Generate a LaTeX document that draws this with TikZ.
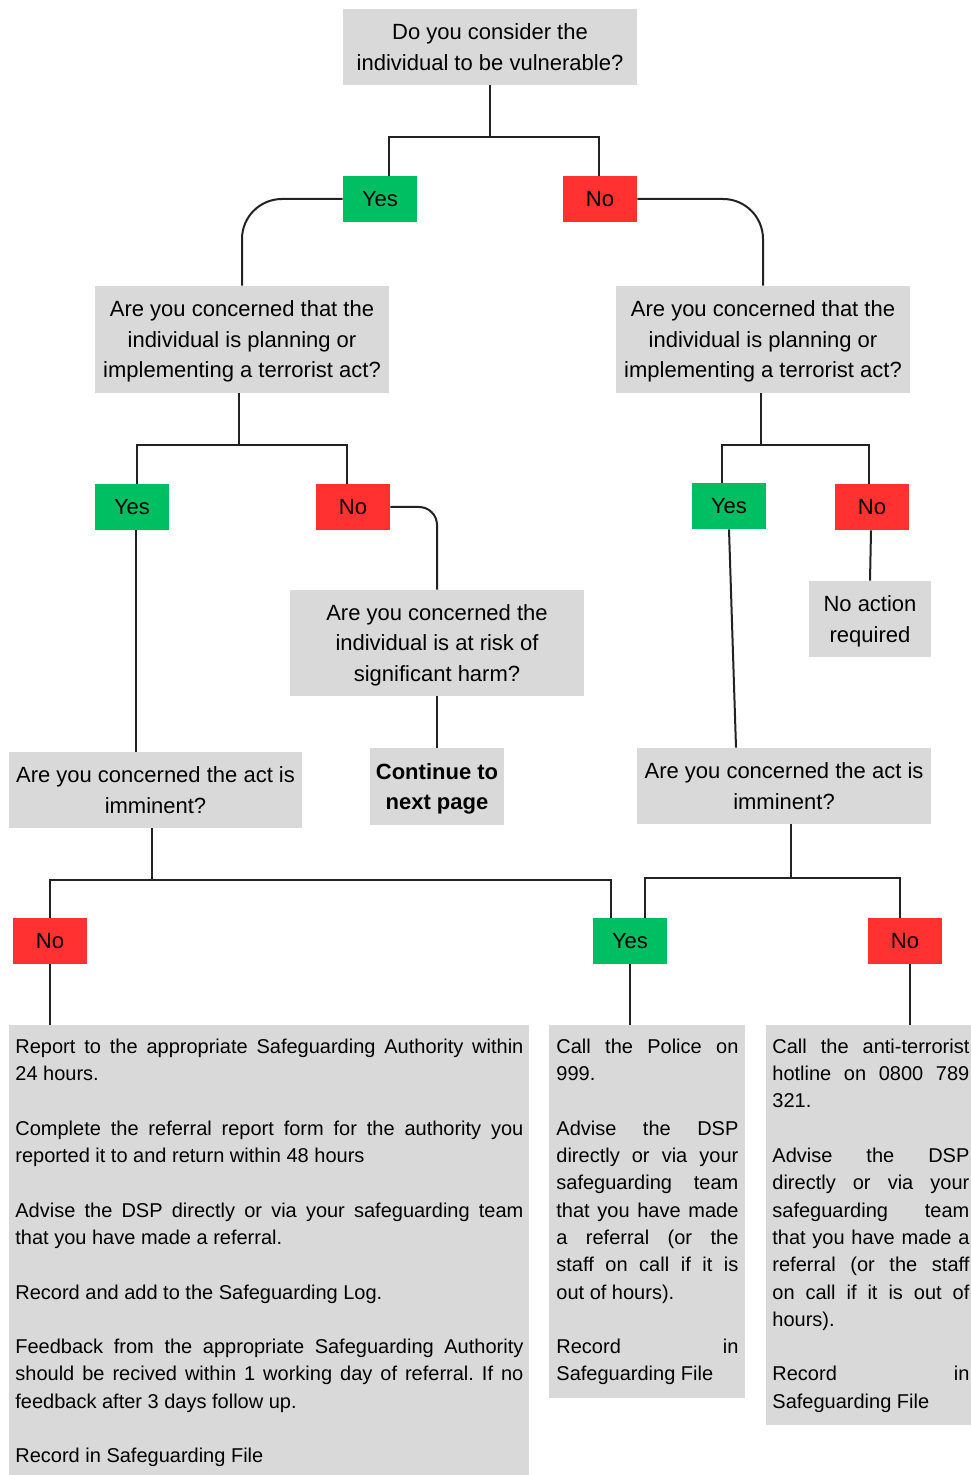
\documentclass[tikz,border=0pt]{standalone}
\usepackage{fontspec}
\setmainfont{Liberation Sans}

\definecolor{boxgray}{HTML}{D9D9D9}
\definecolor{yesgreen}{HTML}{00BF63}
\definecolor{nored}{HTML}{FF3131}
\definecolor{linegray}{HTML}{222222}

\newcommand{\gap}{\par\vspace{13.65pt}}
\hyphenpenalty=10000
\exhyphenpenalty=10000
\tolerance=10000
\frenchspacing

\begin{document}
\begin{tikzpicture}[x=0.5pt, y=-0.5pt,
	question/.style={fill=boxgray, inner sep=0pt, align=center, text depth=0pt, font=\fontsize{11}{15.25}\selectfont},
	yesbox/.style={fill=yesgreen, minimum width=37pt, minimum height=23pt, inner sep=0pt, font=\fontsize{11}{15}\selectfont},
	nobox/.style={yesbox, fill=nored},
	todo/.style={fill=boxgray, anchor=north west, inner xsep=3pt, inner ysep=4.4pt, align=justify, font=\fontsize{10}{13.65}\selectfont},
	link/.style={draw=linegray, line width=1pt}]

		\useasboundingbox (0,0) rectangle (970,1475);

		% questions
		\node[question, minimum width=147pt, minimum height=38pt] (vuln) at (490,47) {Do you consider the\\individual to be vulnerable?};
		\node[yesbox] (yes1) at (380,199) {Yes};
		\node[nobox] (no1) at (600,199) {No};

		\node[question, minimum width=147pt, minimum height=53.5pt] (terrL) at (242,339.5) {Are you concerned that the\\individual is planning or\\implementing a terrorist act?};
		\node[question, minimum width=147pt, minimum height=53.5pt] (terrR) at (763,339.5) {Are you concerned that the\\individual is planning or\\implementing a terrorist act?};

		\node[yesbox] (yes2) at (132,507) {Yes};
		\node[nobox] (no2) at (353,507) {No};
		\node[yesbox] (yes3) at (729,506) {Yes};
		\node[nobox] (no3) at (872,507) {No};

		\node[question, minimum width=147pt, minimum height=53pt] (harm) at (437,643) {Are you concerned the\\individual is at risk of\\significant harm?};
		\node[question, minimum width=67pt, minimum height=38.5pt, font=\fontsize{11}{15.25}\selectfont\bfseries] (cont) at (437,786.5) {Continue to\\next page};
		\node[question, minimum width=61pt, minimum height=38pt] (noact) at (870,619) {No action\\required};

		\node[question, minimum width=146.5pt, minimum height=38pt] (immL) at (155.5,790) {Are you concerned the act is\\imminent?};
		\node[question, minimum width=147pt, minimum height=38pt] (immR) at (784,786) {Are you concerned the act is\\imminent?};

		\node[nobox] (no4) at (50,941) {No};
		\node[yesbox] (yes4) at (630,941) {Yes};
		\node[nobox] (no5) at (905,941) {No};

		% actions
		\node[todo, text width=254pt] (report) at (9,1025) {\strut Report to the appropriate Safeguarding Authority within\linebreak 24 hours.\gap
			Complete the referral report form for the authority you\linebreak reported it to and return within 48 hours\gap
			Advise the DSP directly or via your safeguarding team\linebreak that you have made a referral.\gap
			Record and add to the Safeguarding Log.\gap
			Feedback from the appropriate Safeguarding Authority\linebreak should be recived within 1 working day of referral. If no\linebreak feedback after 3 days follow up.\gap
			Record in Safeguarding File\strut};
		\node[todo, text width=91pt, inner xsep=3.5pt] (police) at (549,1025) {\strut Call the Police on\linebreak 999.\gap
			Advise the DSP\linebreak directly or via your\linebreak safeguarding team\linebreak that you have made\linebreak a referral (or the\linebreak staff on call if it is\linebreak out of hours).\gap
			Record in\linebreak Safeguarding File\strut};
		\node[todo, text width=98.5pt] (hotline) at (766,1025) {\strut Call the anti-terrorist\linebreak hotline on 0800 789\linebreak 321.\gap
			Advise the DSP\linebreak directly or via your\linebreak safeguarding team\linebreak that you have made a\linebreak referral (or the staff\linebreak on call if it is out of\linebreak hours).\gap
			Record in\linebreak Safeguarding File\strut};

		% connectors
		\draw[link] (vuln.south) -- ++(0,52) coordinate (b1);
		\draw[link] ([xshift=4.5pt]yes1.north) |- (b1) -| ([xshift=-0.5pt]no1.north);
		\draw[link, rounded corners=20pt] (yes1.west) -| (terrL.north);
		\draw[link, rounded corners=20pt] (no1.east) -| (terrR.north);

		\draw[link] ([xshift=-1.5pt]terrL.south) -- ++(0,52) coordinate (b2);
		\draw[link] ([xshift=2.5pt]yes2.north) |- (b2) -| ([xshift=-3pt]no2.north);
		\draw[link, rounded corners=9pt] (no2.east) -| (harm.north);
		\draw[link] (harm.south) -- (cont.north);
		\draw[link] ([xshift=2pt]yes2.south) -- ([xshift=2pt]yes2.south |- immL.north);

		\draw[link] ([xshift=-1pt]terrR.south) -- ++(0,52) coordinate (b3);
		\draw[link] ([xshift=-3.5pt]yes3.north) |- (b3) -| ([xshift=-1.5pt]no3.north);
		\draw[link] ([xshift=-0.5pt]no3.south) -- (noact.north);
		\draw[link] (yes3.south) -- ([xshift=-24pt]immR.north);

		\draw[link] ([xshift=-1.75pt]immL.south) -- ++(0,52) coordinate (b4);
		\draw[link] (no4.north) |- (b4) -| ([xshift=-9.5pt]yes4.north);
		\draw[link] ([xshift=3.5pt]immR.south) -- ++(0,54) coordinate (b5);
		\draw[link] ([xshift=7.5pt]yes4.north) |- (b5) -| ([xshift=-2.5pt]no5.north);

		\draw[link] (no4.south) -- (no4.south |- report.north);
		\draw[link] (yes4.south) -- (yes4.south |- police.north);
		\draw[link] ([xshift=2.5pt]no5.south) -- ([xshift=2.5pt]no5.south |- hotline.north);
	\end{tikzpicture}
\end{document}
